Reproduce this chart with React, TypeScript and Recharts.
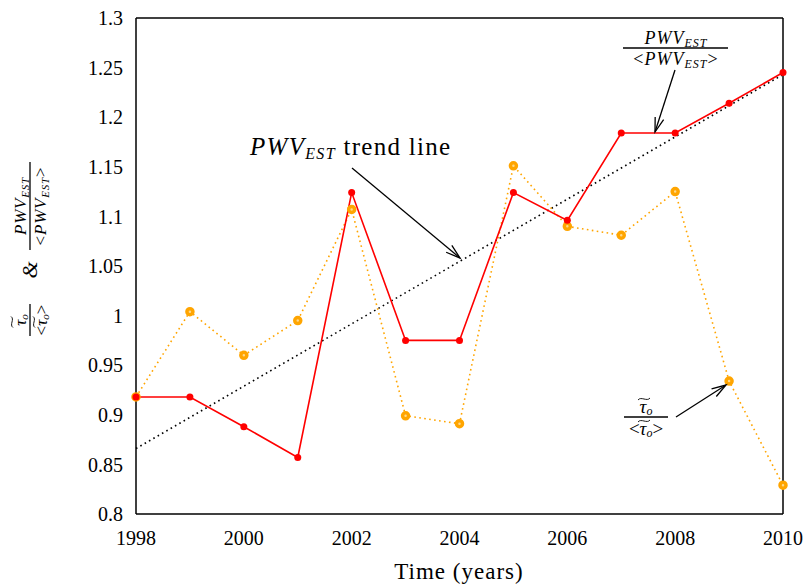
import React from 'react';
import { LineChart, Line, XAxis, YAxis } from 'recharts';

// yearly ratios to the multi-year mean
const years = [1998, 1999, 2000, 2001, 2002, 2003, 2004, 2005, 2006, 2007, 2008, 2009, 2010];
const pwvRatio = [0.918, 0.918, 0.888, 0.857, 1.124, 0.975, 0.975, 1.124, 1.096, 1.184, 1.184, 1.214, 1.245];
const tauRatio = [0.918, 1.004, 0.96, 0.995, 1.107, 0.899, 0.891, 1.151, 1.09, 1.081, 1.125, 0.934, 0.829];
// linear fit of PWV, given at its two ends
const trendStart = 0.866;
const trendEnd = 1.243;

const xTicks = [1998, 2000, 2002, 2004, 2006, 2008, 2010];
const yTicks = [0.8, 0.85, 0.9, 0.95, 1, 1.05, 1.1, 1.15, 1.2, 1.25, 1.3];

const data = years.map((year, i) => ({
  year,
  pwv: pwvRatio[i],
  tau: tauRatio[i],
  trend: i === 0 ? trendStart : i === years.length - 1 ? trendEnd : null,
}));

const FONT = '"Liberation Serif", "DejaVu Serif", serif';
const W = 812;
const H = 586;

const tickStyle = { fill: '#000', fontSize: 20, fontFamily: FONT };
const blank = () => '';

const TauDot = (props: any) => {
  const { cx, cy, index } = props;
  if (cx == null || cy == null) return null;
  return <circle key={`t${index}`} cx={cx} cy={cy} r={3} fill="#ffd98a" stroke="#ffa500" strokeWidth={3.5} />;
};

const Arrow = ({ x1, y1, x2, y2 }: { x1: number; y1: number; x2: number; y2: number }) => {
  const a = Math.atan2(y2 - y1, x2 - x1);
  const len = 15;
  const spread = 0.3;
  const h1 = [x2 - len * Math.cos(a - spread), y2 - len * Math.sin(a - spread)];
  const h2 = [x2 - len * Math.cos(a + spread), y2 - len * Math.sin(a + spread)];
  return (
    <g stroke="#000" strokeWidth={1.3} fill="none">
      <line x1={x1} y1={y1} x2={x2} y2={y2} />
      <polyline points={`${h1[0]},${h1[1]} ${x2},${y2} ${h2[0]},${h2[1]}`} />
    </g>
  );
};

// wide tilde accent centred on (x, y)
const Tilde = ({ x, y, w = 10 }: { x: number; y: number; w?: number }) => (
  <path
    d={`M${x - w / 2},${y + 1} C${x - w / 4},${y - 3} ${x + w / 4},${y + 3} ${x + w / 2},${y - 1}`}
    stroke="#000"
    strokeWidth={0.9}
    fill="none"
  />
);

const Annotations = () => (
  <svg width={W} height={H} style={{ position: 'absolute', left: 0, top: 0, pointerEvents: 'none' }}>
    <g fontFamily={FONT} fill="#000">
      {/* trend line label */}
      <text x={250} y={155} fontSize={25} style={{ letterSpacing: 1.3 }}>
        <tspan fontStyle="italic">PWV</tspan>
        <tspan fontStyle="italic" fontSize={16} dy={4}>EST</tspan>
        <tspan dy={-4}> trend line</tspan>
      </text>
      <Arrow x1={352} y1={168} x2={460} y2={258} />

      {/* PWV ratio label */}
      <text x={676} y={44} fontSize={18} style={{ letterSpacing: 1 }} textAnchor="middle">
        <tspan fontStyle="italic">PWV</tspan>
        <tspan fontStyle="italic" fontSize={12} dy={3}>EST</tspan>
      </text>
      <line x1={623} y1={48} x2={728} y2={48} stroke="#000" strokeWidth={1.3} />
      <text x={676} y={65} fontSize={18} style={{ letterSpacing: 1 }} textAnchor="middle">
        <tspan>&lt;</tspan>
        <tspan fontStyle="italic">PWV</tspan>
        <tspan fontStyle="italic" fontSize={12} dy={3}>EST</tspan>
        <tspan dy={-3}>&gt;</tspan>
      </text>
      <Arrow x1={675} y1={70} x2={655} y2={132} />

      {/* tau ratio label */}
      <Tilde x={644} y={399} w={12} />
      <text x={646} y={413} fontSize={19} textAnchor="middle">
        <tspan fontStyle="italic">τ</tspan>
        <tspan fontStyle="italic" fontSize={12} dy={2}>o</tspan>
      </text>
      <line x1={624} y1={417} x2={668} y2={417} stroke="#000" strokeWidth={1.3} />
      <Tilde x={644} y={421} w={12} />
      <text x={646} y={435} fontSize={19} textAnchor="middle">
        <tspan>&lt;</tspan>
        <tspan fontStyle="italic">τ</tspan>
        <tspan fontStyle="italic" fontSize={12} dy={2}>o</tspan>
        <tspan dy={-2}>&gt;</tspan>
      </text>
      <Arrow x1={676} y1={417} x2={726} y2={385} />

      {/* x axis title */}
      <text x={459} y={579} fontSize={23} style={{ letterSpacing: 1 }} textAnchor="middle">
        Time (years)
      </text>

      {/* y axis title, read bottom to top */}
      <g transform="translate(30, 250) rotate(-90)">
        <Tilde x={-72} y={-18} w={11} />
        <text x={-70} y={-4} fontSize={17} textAnchor="middle">
          <tspan fontStyle="italic">τ</tspan>
          <tspan fontStyle="italic" fontSize={11} dy={2}>o</tspan>
        </text>
        <line x1={-86} y1={0} x2={-54} y2={0} stroke="#000" strokeWidth={1.3} />
        <Tilde x={-72} y={4} w={11} />
        <text x={-70} y={17} fontSize={17} textAnchor="middle">
          <tspan>&lt;</tspan>
          <tspan fontStyle="italic">τ</tspan>
          <tspan fontStyle="italic" fontSize={11} dy={2}>o</tspan>
          <tspan dy={-2}>&gt;</tspan>
        </text>
        <text x={-20} y={7} fontSize={22} fontStyle="italic" textAnchor="middle">&amp;</text>
        <text x={44} y={-4} fontSize={17} style={{ letterSpacing: 0.8 }} textAnchor="middle">
          <tspan fontStyle="italic">PWV</tspan>
          <tspan fontStyle="italic" fontSize={11} dy={3}>EST</tspan>
        </text>
        <line x1={0} y1={0} x2={88} y2={0} stroke="#000" strokeWidth={1.3} />
        <text x={44} y={16} fontSize={17} style={{ letterSpacing: 0.8 }} textAnchor="middle">
          <tspan>&lt;</tspan>
          <tspan fontStyle="italic">PWV</tspan>
          <tspan fontStyle="italic" fontSize={11} dy={3}>EST</tspan>
          <tspan dy={-3}>&gt;</tspan>
        </text>
      </g>
    </g>
  </svg>
);

export default function App() {
  return (
    <div style={{ position: 'absolute', left: 0, top: 0, width: W, height: H, background: '#fff' }}>
      <LineChart width={W} height={H} data={data} margin={{ top: 18, right: 29, left: 70, bottom: 32 }}>
        {/* labelled axes */}
        <XAxis
          dataKey="year"
          type="number"
          domain={[1998, 2010]}
          ticks={xTicks}
          tickLine={false}
          tickSize={6}
          tickMargin={11}
          height={40}
          axisLine={{ stroke: '#000', strokeWidth: 1.5 }}
          tick={tickStyle}
        />
        <YAxis
          type="number"
          domain={[0.8, 1.3]}
          ticks={yTicks}
          tickLine={false}
          tickSize={6}
          tickMargin={7}
          width={66}
          axisLine={{ stroke: '#000', strokeWidth: 1.5 }}
          tick={tickStyle}
        />
        {/* inward tick marks and frame */}
        <XAxis xAxisId="bottomTicks" type="number" domain={[1998, 2010]} ticks={xTicks} mirror axisLine={false}
          tickLine={{ stroke: '#000', strokeWidth: 1 }} tickSize={7} tickFormatter={blank} />
        <XAxis xAxisId="top" orientation="top" type="number" domain={[1998, 2010]} ticks={xTicks} mirror
          axisLine={{ stroke: '#000', strokeWidth: 1.5 }} tickLine={{ stroke: '#000', strokeWidth: 1 }} tickSize={7} tickFormatter={blank} />
        <YAxis yAxisId="leftTicks" type="number" domain={[0.8, 1.3]} ticks={yTicks} mirror axisLine={false}
          tickLine={{ stroke: '#000', strokeWidth: 1 }} tickSize={7} tickFormatter={blank} />
        <YAxis yAxisId="right" orientation="right" type="number" domain={[0.8, 1.3]} ticks={yTicks} mirror
          axisLine={{ stroke: '#000', strokeWidth: 1.5 }} tickLine={{ stroke: '#000', strokeWidth: 1 }} tickSize={7} tickFormatter={blank} />

        <Line
          dataKey="trend"
          connectNulls
          stroke="#000"
          strokeWidth={1.6}
          strokeDasharray="1.6 3.4"
          dot={false}
          activeDot={false}
          isAnimationActive={false}
        />
        <Line
          dataKey="tau"
          stroke="#ffa500"
          strokeWidth={1.6}
          strokeDasharray="1.6 3.4"
          dot={TauDot}
          activeDot={false}
          isAnimationActive={false}
        />
        <Line
          dataKey="pwv"
          stroke="#ff0000"
          strokeWidth={1.6}
          dot={{ r: 3.5, fill: '#ff0000', stroke: '#ff0000', strokeWidth: 0 }}
          activeDot={false}
          isAnimationActive={false}
        />
      </LineChart>
      <Annotations />
    </div>
  );
}
